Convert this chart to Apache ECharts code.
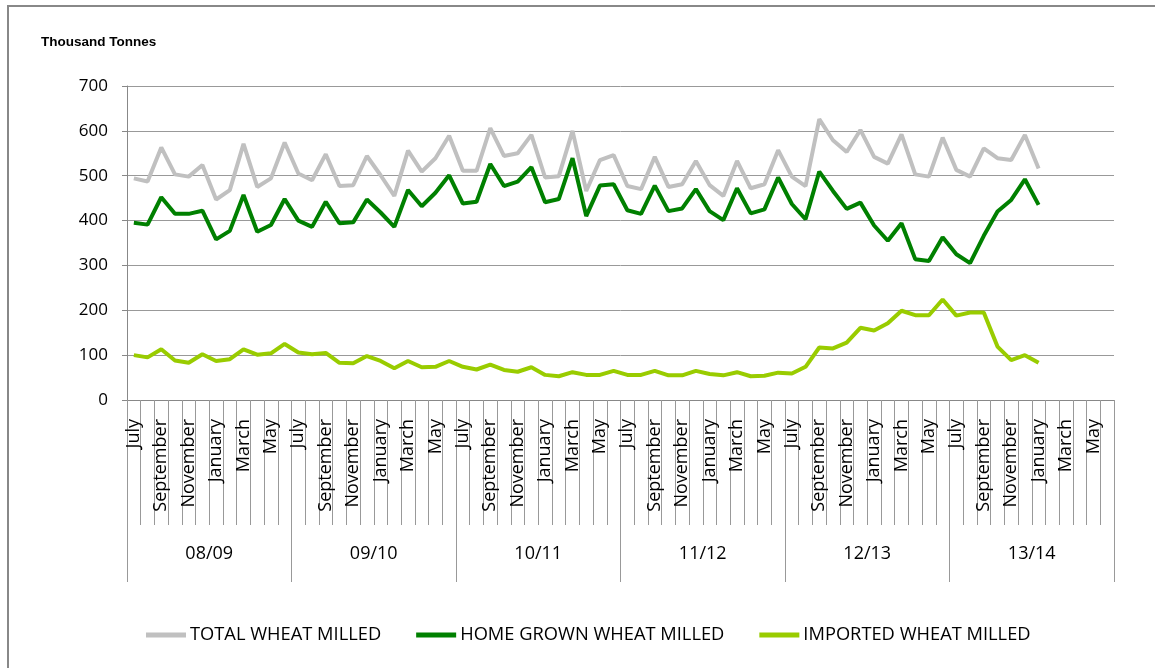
<!DOCTYPE html>
<html>
<head>
<meta charset="utf-8">
<script src="https://cdn.jsdelivr.net/npm/echarts@6/dist/echarts.min.js"></script>
<style>
html,body{margin:0;padding:0;background:#fff;}
#chart{width:1155px;height:668px;}
</style>
</head>
<body>
<div id="chart"></div>
<script>
const monthNames = ["July","August","September","October","November","December","January","February","March","April","May","June"];
const seasons = ["08/09","09/10","10/11","11/12","12/13","13/14"];
const yTicks = [0,100,200,300,400,500,600,700];

const totalMilled = [494,487,563,503,498,524,447,468,571,475,494,574,
  505,490,548,477,479,544,501,455,556,509,539,589,
  511,511,606,544,550,591,496,499,600,466,535,546,
  477,470,542,475,481,533,479,455,533,472,481,557,
  498,477,626,579,553,602,542,527,592,503,498,585,
  513,498,561,539,535,591,516];
const homeGrown = [395,391,452,415,415,422,358,377,457,375,390,448,
  400,386,442,394,396,447,418,386,468,432,462,501,
  438,442,526,477,487,519,441,448,539,410,478,481,
  423,415,478,421,427,470,421,401,472,416,425,496,
  437,403,509,466,426,440,389,355,394,314,310,363,
  325,305,366,420,446,492,435];
const imported = [100,95,113,88,83,102,87,91,113,101,104,125,
  106,102,105,83,82,98,87,71,87,73,74,87,
  74,68,79,67,63,73,56,53,62,56,56,65,
  56,56,65,55,55,65,58,55,62,53,54,61,
  59,74,117,115,128,161,155,171,199,189,189,224,
  188,195,195,119,89,100,83];

const categories = [];
seasons.forEach(s => monthNames.forEach(m => categories.push(m)));

const chart = echarts.init(document.getElementById('chart'), null, {renderer:'canvas'});
const fontC = "'Open Sans', sans-serif";
chart.setOption({
  animation: false,
  backgroundColor: '#fff',
  title: {
    text: 'Thousand Tonnes', left: 41, top: 35, padding: 0,
    textStyle: {fontFamily: "'Liberation Sans', Arial, sans-serif", fontSize: 13.5, fontWeight: 'bold', color: '#000'}
  },
  graphic: [{
    type: 'polyline',
    shape: {points: [[1160, 6], [8, 6], [8, 670]]},
    style: {stroke: '#888', lineWidth: 2, fill: null}
  }],
  legend: {
    left: 146, top: 626, padding: 0,
    icon: 'rect', itemWidth: 40, itemHeight: 5, itemGap: 35,
    textStyle: {fontFamily: fontC, fontSize: 18.3, color: '#000', padding: [0,0,0,-1]},
    data: ['TOTAL WHEAT MILLED','HOME GROWN WHEAT MILLED','IMPORTED WHEAT MILLED']
  },
  grid: {left: 127, right: 41, top: 86, bottom: 268, containLabel: false},
  xAxis: [{
    type: 'category', data: categories, boundaryGap: true, position: 'bottom',
    axisLine: {show: true, lineStyle: {color: '#888', width: 1}},
    axisTick: {show: true, interval: 0, length: 125, lineStyle: {color: '#999', width: 1}},
    axisLabel: {interval: 1, rotate: 90, margin: 19, fontFamily: fontC, fontSize: 18, color: '#000'},
    splitLine: {show: false}
  }, {
    type: 'category', data: seasons, boundaryGap: true, position: 'bottom', offset: 0,
    axisLine: {show: false},
    axisTick: {show: true, interval: 0, length: 182, lineStyle: {color: '#999', width: 1}},
    axisLabel: {interval: 0, margin: 145, fontFamily: fontC, fontSize: 18, color: '#000'},
    splitLine: {show: false}
  }],
  yAxis: {
    type: 'value', min: 0, max: 700, interval: 100,
    axisLine: {show: true, lineStyle: {color: '#888', width: 1}},
    axisTick: {show: true, length: 5, lineStyle: {color: '#888'}},
    axisLabel: {margin: 19, fontFamily: fontC, fontSize: 17, color: '#000',
      formatter: v => yTicks.includes(v) ? String(v) : ''},
    splitLine: {show: true, lineStyle: {color: '#999', width: 1}}
  },
  series: [{
    name: 'TOTAL WHEAT MILLED', type: 'line', data: totalMilled, xAxisIndex: 0,
    showSymbol: false, symbol: 'none', color: '#C0C0C0', lineStyle: {width: 4, color: '#C0C0C0'}
  }, {
    name: 'HOME GROWN WHEAT MILLED', type: 'line', data: homeGrown, xAxisIndex: 0,
    showSymbol: false, symbol: 'none', color: '#008000', lineStyle: {width: 4, color: '#008000'}
  }, {
    name: 'IMPORTED WHEAT MILLED', type: 'line', data: imported, xAxisIndex: 0,
    showSymbol: false, symbol: 'none', color: '#99CC00', lineStyle: {width: 4, color: '#99CC00'}
  }]
});
</script>
</body>
</html>
